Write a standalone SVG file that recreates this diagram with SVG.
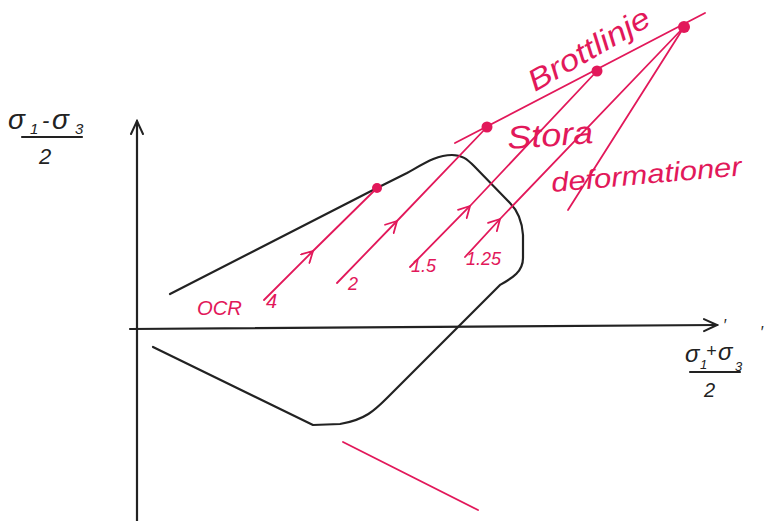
<svg xmlns="http://www.w3.org/2000/svg" width="770" height="521" viewBox="0 0 770 521">
<style>
.blk{fill:none;stroke:#222;stroke-width:2.2;stroke-linecap:round;stroke-linejoin:round}
.red{fill:none;stroke:#e2185a;stroke-width:1.8;stroke-linecap:round}
.rt{fill:#e2185a;font-family:"Liberation Sans",Arial,sans-serif;font-style:italic}
.bt{fill:#222;font-family:"Liberation Sans",Arial,sans-serif;font-style:italic}
.dot{fill:#e2185a}
</style>
<defs>
<marker id="ra" viewBox="-12 -7 14 14" markerWidth="14" markerHeight="14" refX="0" refY="0" orient="auto" markerUnits="userSpaceOnUse">
<path d="M-11,-6 L0,0 L-11,6" fill="none" stroke="#e2185a" stroke-width="1.8" stroke-linecap="round"/>
</marker>
<marker id="ba" viewBox="-14 -8 16 16" markerWidth="16" markerHeight="16" refX="0" refY="0" orient="auto" markerUnits="userSpaceOnUse">
<path d="M-13,-6 L0,0 L-13,6" fill="none" stroke="#222" stroke-width="2" stroke-linecap="round"/>
</marker>
</defs>
<rect width="770" height="521" fill="#fff"/>
<g id="axes">
<line class="blk" x1="137" y1="521" x2="137" y2="121" marker-end="url(#ba)"/>
<line class="blk" x1="130" y1="329" x2="717" y2="325" marker-end="url(#ba)"/>
</g>
<g id="ylabel">
<text class="bt" x="8" y="129" font-size="28">σ</text>
<text class="bt" x="30" y="134" font-size="15">1</text>
<text class="bt" x="42" y="128" font-size="22">-</text>
<text class="bt" x="52" y="129" font-size="28">σ</text>
<text class="bt" x="75" y="134" font-size="15">3</text>
<line class="blk" x1="22" y1="137" x2="82" y2="137"/>
<text class="bt" x="39" y="164" font-size="22">2</text>
</g>
<g id="xlabel">
<text class="bt" x="685" y="362" font-size="24">σ</text>
<text class="bt" x="700" y="369" font-size="13">1</text>
<text class="bt" x="723" y="331" font-size="16">′</text>
<text class="bt" x="706" y="357" font-size="18">+</text>
<text class="bt" x="718" y="360" font-size="24">σ</text>
<text class="bt" x="735" y="371" font-size="13">3</text>
<text class="bt" x="760" y="338" font-size="16">′</text>
<line class="blk" x1="690" y1="372" x2="740" y2="372"/>
<text class="bt" x="704" y="397" font-size="20">2</text>
</g>
<g id="envelope">
<path class="blk" d="M170,294 L377,188 L407,173 C425,163 437,155 452,155 C462,155 467,159 474,166 L510,203 C518,211 522,220 523,235 L523,258 C523,272 512,278 500,285 L387,398 C375,410 365,420 340,424 L313,425 L153,347"/>
</g>
<g id="connectors">
<line class="red" x1="455" y1="143" x2="705" y2="13"/>
<path class="red" d="M264,300 L313,251 L377,188" marker-mid="url(#ra)"/>
<path class="red" d="M337,283 L397,221 L487,127" marker-mid="url(#ra)"/>
<path class="red" d="M410,267 L470,206 L597,71" marker-mid="url(#ra)"/>
<path class="red" d="M465,257 L500,219 L684,27" marker-mid="url(#ra)"/>
<line class="red" x1="568" y1="210" x2="684" y2="27"/>
<line class="red" x1="343" y1="442" x2="478" y2="510"/>
</g>
<g id="points">
<circle class="dot" cx="377" cy="188" r="5"/>
<circle class="dot" cx="487" cy="127" r="5.5"/>
<circle class="dot" cx="597" cy="71" r="5.5"/>
<circle class="dot" cx="684" cy="27" r="6"/>
</g>
<g id="labels">
<text class="rt" font-size="30" textLength="136" lengthAdjust="spacingAndGlyphs" transform="translate(535,92) rotate(-30)">Brottlinje</text>
<text class="rt" font-size="32" textLength="86" lengthAdjust="spacingAndGlyphs" transform="translate(508,149) rotate(-4)">Stora</text>
<text class="rt" font-size="27" textLength="191" lengthAdjust="spacingAndGlyphs" transform="translate(552,192) rotate(-5)">deformationer</text>
<text class="rt" x="197" y="315" font-size="21" textLength="45" lengthAdjust="spacingAndGlyphs">OCR</text>
<text class="rt" x="266" y="308" font-size="20">4</text>
<text class="rt" x="348" y="290" font-size="18">2</text>
<text class="rt" x="411" y="272" font-size="18">1.5</text>
<text class="rt" x="466" y="265" font-size="18">1.25</text>
</g>
</svg>
